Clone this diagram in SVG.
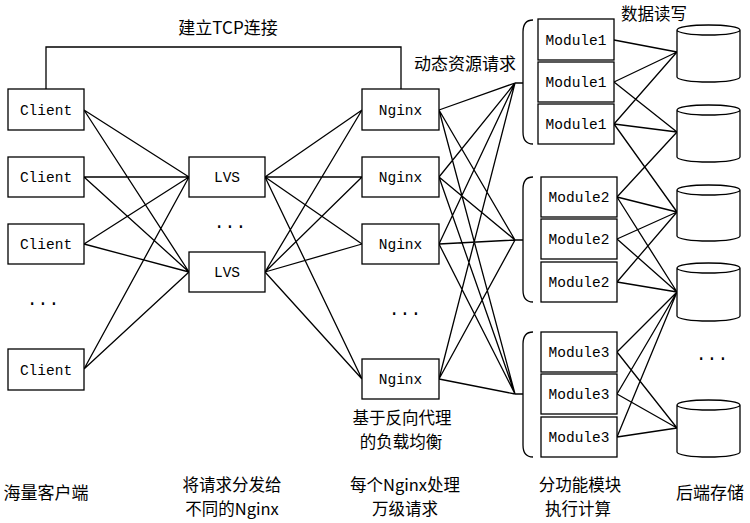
<svg xmlns="http://www.w3.org/2000/svg" width="750" height="523" viewBox="0 0 750 523">
<style>
.box{fill:#fff;stroke:#000;stroke-width:1.3}
.cyl{fill:#fff;stroke:#000;stroke-width:1.3}
.lbl{font-family:"Liberation Mono","Noto Sans CJK SC",monospace;font-size:14.5px;fill:#000;text-anchor:middle}
.cn{font-family:"Noto Sans CJK SC","Noto Sans",sans-serif;font-size:17px;fill:#000;text-anchor:middle}
.cn2{font-family:"Noto Sans CJK SC","Noto Sans",sans-serif;font-size:16.5px;fill:#000;text-anchor:middle}
.dots{font-family:"Liberation Mono",monospace;font-size:18px;fill:#000;text-anchor:middle}
#connectors path,#connectors line{stroke:#000;stroke-width:1.3;fill:none}
</style>
<rect width="750" height="523" fill="#fff"/>
<g id="connectors">
<path d="M46,89 V47 H401 V89"/>
<path d="M84,110 L189,177 M84,110 L189,272 M84,177 L189,177 M84,177 L189,272 M84,244 L189,177 M84,244 L189,272 M84,369 L189,177 M84,369 L189,272"/>
<path d="M265,177 L362,110 M265,177 L362,177 M265,177 L362,244 M265,177 L362,379 M265,272 L362,110 M265,272 L362,177 M265,272 L362,244 M265,272 L362,379"/>
<path d="M439,110 L515,83 M439,110 L515,240 M439,110 L515,394 M439,177 L515,83 M439,177 L515,240 M439,177 L515,394 M439,244 L515,83 M439,244 L515,240 M439,244 L515,394 M439,379 L515,83 M439,379 L515,240 M439,379 L515,394"/>
<path d="M515,83 H523 M515,240 H523 M515,394 H523"/>
<path d="M533,20 Q523,20 523,32 V132 Q523,144 533,144"/>
<path d="M533,177 Q523,177 523,189 V290 Q523,302 533,302"/>
<path d="M533,332 Q523,332 523,344 V445 Q523,457 533,457"/>
<path d="M614,40 L677,52 M614,82 L677,52 M614,82 L677,132 M614,124 L677,52 M614,124 L677,132 M614,124 L677,212 M617,197 L677,132 M617,197 L677,212 M617,197 L677,292 M617,239 L677,212 M617,239 L677,292 M617,282 L677,212 M617,282 L677,292 M617,352 L677,292 M617,352 L677,428 M617,394 L677,292 M617,394 L677,428 M617,437 L677,292 M617,437 L677,428"/>
</g>
<g id="client1"><rect class="box" x="8" y="89" width="76" height="41"/><text class="lbl" x="46" y="115">Client</text></g>
<g id="client2"><rect class="box" x="8" y="157" width="76" height="40"/><text class="lbl" x="46" y="182">Client</text></g>
<g id="client3"><rect class="box" x="8" y="224" width="76" height="40"/><text class="lbl" x="46" y="249">Client</text></g>
<g id="client4"><rect class="box" x="8" y="349" width="76" height="41"/><text class="lbl" x="46" y="375">Client</text></g>
<text class="dots" x="43" y="305">...</text>
<g id="lvs1"><rect class="box" x="189" y="157" width="76" height="40"/><text class="lbl" x="227" y="182">LVS</text></g>
<g id="lvs2"><rect class="box" x="189" y="252" width="76" height="40"/><text class="lbl" x="227" y="277">LVS</text></g>
<text class="dots" x="230" y="228">...</text>
<g id="nginx1"><rect class="box" x="362" y="89" width="77" height="41"/><text class="lbl" x="400.5" y="115">Nginx</text></g>
<g id="nginx2"><rect class="box" x="362" y="157" width="77" height="40"/><text class="lbl" x="400.5" y="182">Nginx</text></g>
<g id="nginx3"><rect class="box" x="362" y="224" width="77" height="40"/><text class="lbl" x="400.5" y="249">Nginx</text></g>
<g id="nginx4"><rect class="box" x="362" y="359" width="77" height="40"/><text class="lbl" x="400.5" y="384">Nginx</text></g>
<text class="dots" x="405" y="315">...</text>
<g id="module1a"><rect class="box" x="538" y="19" width="76" height="41"/><text class="lbl" x="576" y="45">Module1</text></g>
<g id="module1b"><rect class="box" x="538" y="62" width="76" height="40"/><text class="lbl" x="576" y="87">Module1</text></g>
<g id="module1c"><rect class="box" x="538" y="104" width="76" height="40"/><text class="lbl" x="576" y="129">Module1</text></g>
<g id="module2a"><rect class="box" x="541" y="177" width="76" height="40"/><text class="lbl" x="579" y="202">Module2</text></g>
<g id="module2b"><rect class="box" x="541" y="219" width="76" height="40"/><text class="lbl" x="579" y="244">Module2</text></g>
<g id="module2c"><rect class="box" x="541" y="262" width="76" height="40"/><text class="lbl" x="579" y="287">Module2</text></g>
<g id="module3a"><rect class="box" x="541" y="332" width="76" height="40"/><text class="lbl" x="579" y="357">Module3</text></g>
<g id="module3b"><rect class="box" x="541" y="374" width="76" height="40"/><text class="lbl" x="579" y="399">Module3</text></g>
<g id="module3c"><rect class="box" x="541" y="417" width="76" height="40"/><text class="lbl" x="579" y="442">Module3</text></g>
<g id="db1"><path class="cyl" d="M677,30 A31.5,5 0 0 1 740,30 V77 A31.5,5 0 0 1 677,77 Z M677,30 A31.5,5 0 0 0 740,30"/></g>
<g id="db2"><path class="cyl" d="M677,110 A31.5,5 0 0 1 740,110 V157 A31.5,5 0 0 1 677,157 Z M677,110 A31.5,5 0 0 0 740,110"/></g>
<g id="db3"><path class="cyl" d="M677,190 A31.5,5 0 0 1 740,190 V236 A31.5,5 0 0 1 677,236 Z M677,190 A31.5,5 0 0 0 740,190"/></g>
<g id="db4"><path class="cyl" d="M677,268 A31.5,5 0 0 1 740,268 V316 A31.5,5 0 0 1 677,316 Z M677,268 A31.5,5 0 0 0 740,268"/></g>
<g id="db5"><path class="cyl" d="M677,405 A31.5,5 0 0 1 740,405 V452 A31.5,5 0 0 1 677,452 Z M677,405 A31.5,5 0 0 0 740,405"/></g>
<text class="dots" x="712" y="360">...</text>
<g id="labels">
<text class="cn" x="228" y="34">建立TCP连接</text>
<text class="cn" x="465" y="70">动态资源请求</text>
<text class="cn" x="654" y="19.5" style="font-size:16.5px">数据读写</text>
<text class="cn2" x="402" y="423.5">基于反向代理</text>
<text class="cn2" x="401" y="447.5">的负载均衡</text>
<text class="cn" x="46" y="499">海量客户端</text>
<text class="cn2" x="232" y="490.5">将请求分发给</text>
<text class="cn2" x="232" y="514.5">不同的Nginx</text>
<text class="cn2" x="405" y="490.5">每个Nginx处理</text>
<text class="cn2" x="405" y="514.5">万级请求</text>
<text class="cn2" x="580" y="490.5">分功能模块</text>
<text class="cn2" x="578" y="514.5">执行计算</text>
<text class="cn" x="710" y="499">后端存储</text>
</g>
</svg>
